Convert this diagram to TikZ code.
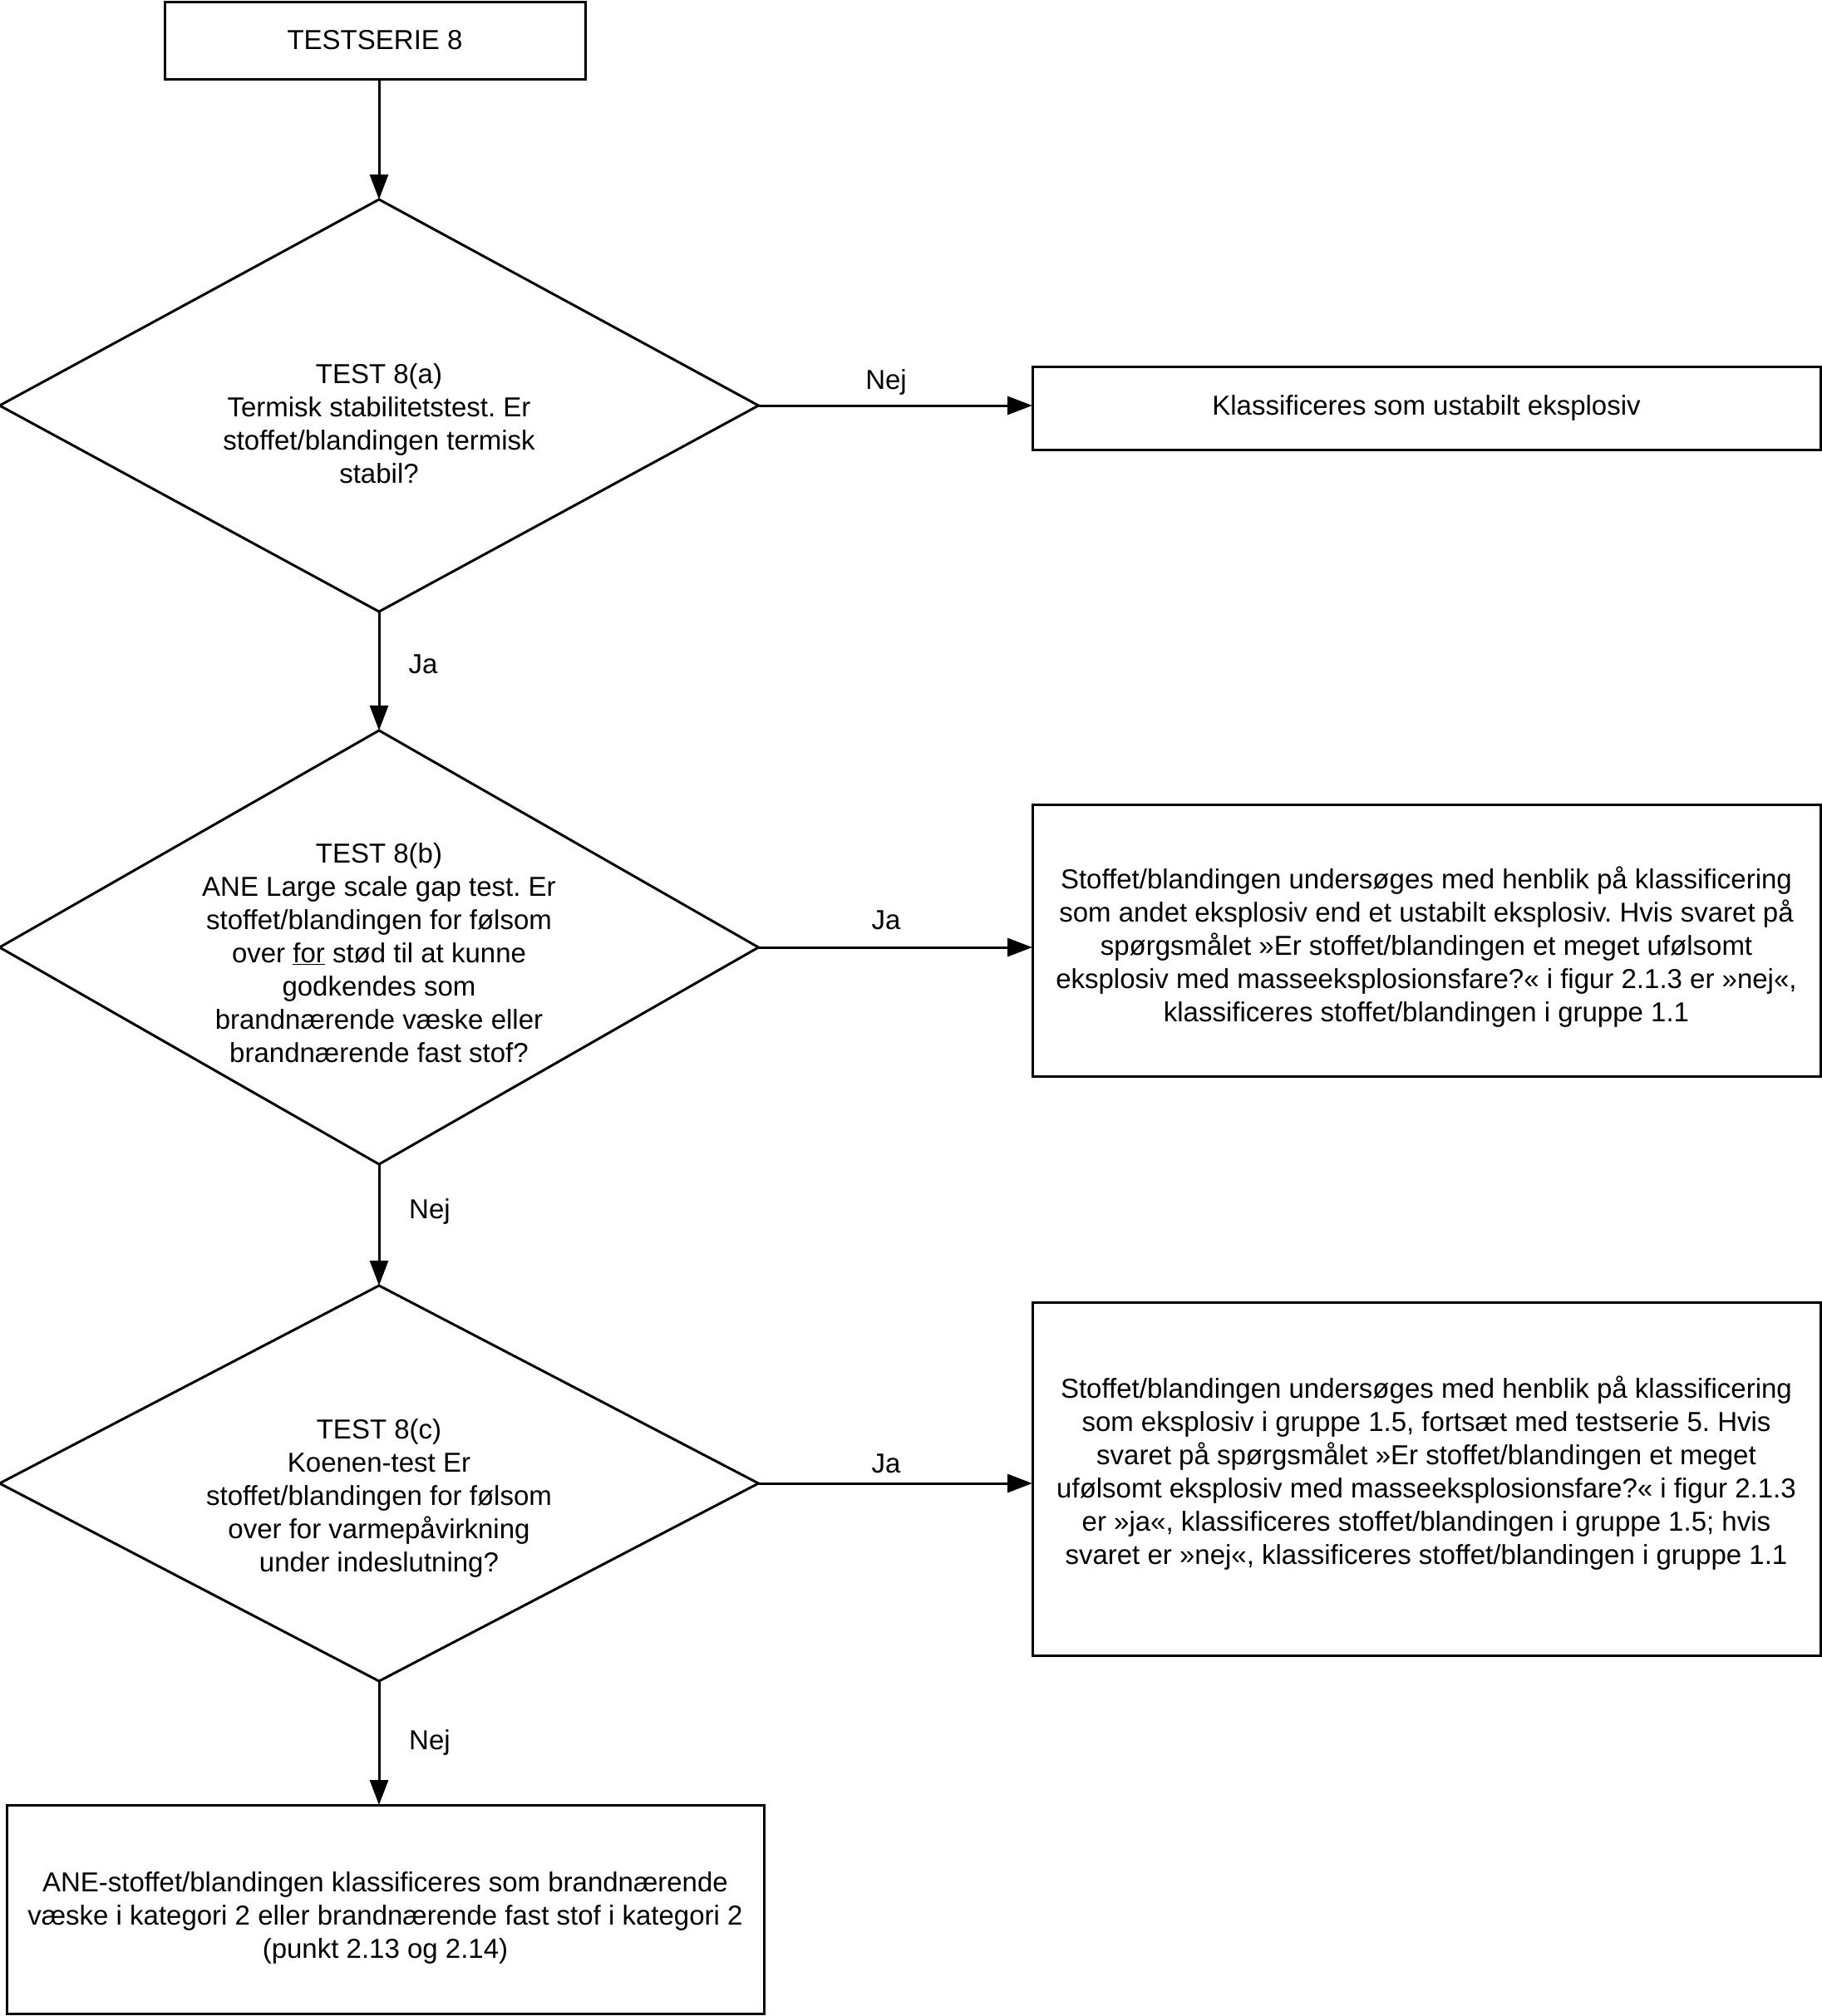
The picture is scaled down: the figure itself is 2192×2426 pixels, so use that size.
\documentclass[tikz,border=0pt]{standalone}
\usepackage{fontspec}
\setmainfont{Liberation Sans}
\usetikzlibrary{shapes.geometric,arrows.meta}
\frenchspacing
\begin{document}
\begin{tikzpicture}[x=1pt,y=-1pt,
  every node/.style={font=\fontsize{33}{40}\selectfont\frenchspacing},
  box/.style={draw,line width=3pt,rectangle,inner sep=0pt,outer sep=0pt},
  dia/.style={draw,line width=3pt,diamond,inner sep=0pt,outer sep=0pt,minimum width=913pt},
  txt/.style={align=center,inner sep=0pt},
  lbl/.style={inner sep=0pt},
  arr/.style={line width=3pt,-{Triangle[length=30pt,width=22pt]}}
]
\useasboundingbox (0,0) rectangle (2192,2426);

\node[box,minimum width=506pt,minimum height=93pt] (T) at (451,48.5) {TESTSERIE 8};

\node[dia,minimum height=496pt] (A) at (456,488) {};
\node[txt] (At) at (456,510) {TEST 8(a)\\Termisk stabilitetstest. Er\\stoffet/blandingen termisk\\stabil?};

\node[box,minimum width=948pt,minimum height=100pt] (K1) at (1716,491) {Klassificeres som ustabilt eksplosiv};

\node[dia,minimum height=522pt] (B) at (456,1140) {};
\node[txt] (Bt) at (456,1147) {TEST 8(b)\\ANE Large scale gap test. Er\\stoffet/blandingen for følsom\\over \underline{for} stød til at kunne\\godkendes som\\brandnærende væske eller\\brandnærende fast stof?};

\node[box,minimum width=948pt,minimum height=327pt] (K2) at (1716,1131.5) {};
\node[txt] (K2t) at (1716,1140) {Stoffet/blandingen undersøges med henblik på klassificering\\som andet eksplosiv end et ustabilt eksplosiv. Hvis svaret på\\spørgsmålet »Er stoffet/blandingen et meget ufølsomt\\eksplosiv med masseeksplosionsfare?« i figur 2.1.3 er »nej«,\\klassificeres stoffet/blandingen i gruppe 1.1};

\node[dia,minimum height=476pt] (C) at (456,1785) {};
\node[txt] (Ct) at (456,1803) {TEST 8(c)\\Koenen-test Er\\stoffet/blandingen for følsom\\over for varmepåvirkning\\under indeslutning?};

\node[box,minimum width=948pt,minimum height=425pt] (K3) at (1716,1779.5) {};
\node[txt] (K3t) at (1716,1773) {Stoffet/blandingen undersøges med henblik på klassificering\\som eksplosiv i gruppe 1.5, fortsæt med testserie 5. Hvis\\svaret på spørgsmålet »Er stoffet/blandingen et meget\\ufølsomt eksplosiv med masseeksplosionsfare?« i figur 2.1.3\\er »ja«, klassificeres stoffet/blandingen i gruppe 1.5; hvis\\svaret er »nej«, klassificeres stoffet/blandingen i gruppe 1.1};

\node[box,minimum width=911pt,minimum height=251pt] (K4) at (463.5,2297.5) {};
\node[txt] (K4t) at (463.5,2308) {ANE-stoffet/blandingen klassificeres som brandnærende\\væske i kategori 2 eller brandnærende fast stof i kategori 2\\(punkt 2.13 og 2.14)};

\draw[arr] (T.south -| A.north) -- (A.north);
\draw[arr] (A.east) -- (A.east -| K1.west);
\draw[arr] (A.south) -- (B.north);
\draw[arr] (B.east) -- (B.east -| K2.west);
\draw[arr] (B.south) -- (C.north);
\draw[arr] (C.east) -- (C.east -| K3.west);
\draw[arr] (C.south) -- (C.south |- K4.north);

\node[lbl] (l1) at (1066,460) {Nej};
\node[lbl] (l2) at (509,799) {Ja};
\node[lbl] (l3) at (1066,1107) {Ja};
\node[lbl] (l4) at (517,1458) {Nej};
\node[lbl] (l5) at (1066,1761) {Ja};
\node[lbl] (l6) at (517,2097) {Nej};
\end{tikzpicture}
\end{document}
